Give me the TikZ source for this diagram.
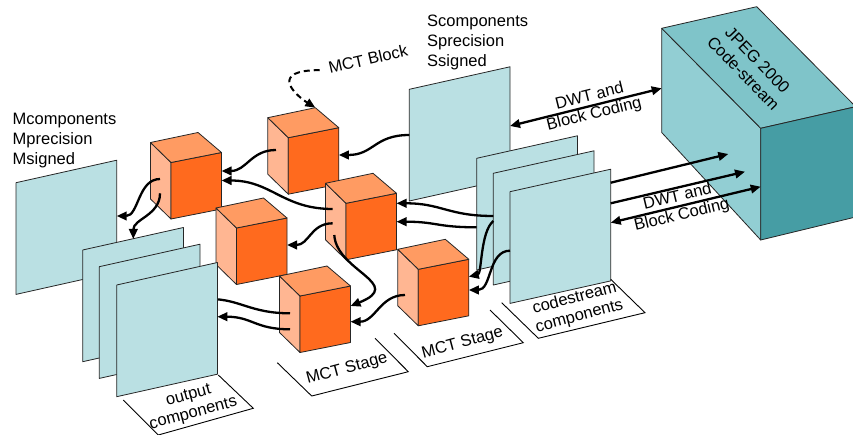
\documentclass[tikz,border=0pt]{standalone}
\usepackage{fontspec}
\setmainfont{Liberation Sans}
\usetikzlibrary{arrows.meta,calc}
\definecolor{planefill}{RGB}{186,224,227}
\definecolor{cubefront}{RGB}{255,106,30}
\definecolor{cubetop}{RGB}{255,155,98}
\definecolor{cubeleft}{RGB}{255,182,146}
\definecolor{boxtop}{RGB}{127,196,201}
\definecolor{boxside}{RGB}{146,206,211}
\definecolor{boxfront}{RGB}{70,157,164}
\tikzset{
  edge/.style={draw=black!85, line width=0.8pt, line join=round},
  plane/.pic={\filldraw[edge, fill=planefill] (0,0) -- (100.7,-22.5) -- (100.7,89.2) -- (0,111.7) -- cycle;},
  cube/.pic={
    \filldraw[edge, fill=cubeleft] (0,0) -- (-20.5,-20) -- (-20.5,36.5) -- (0,56.5) -- cycle;
    \filldraw[edge, fill=cubefront] (0,0) -- (50.5,-10) -- (50.5,46.5) -- (0,56.5) -- cycle;
    \filldraw[edge, fill=cubetop] (0,0) -- (-20.5,-20) -- (27,-30) -- (50.5,-10) -- cycle;
  },
  tip/.tip={Triangle[length=10pt,width=8.5pt]},
  flow/.style={line width=2.3pt, -tip, black},
  both/.style={line width=2.3pt, tip-tip, black},
  dflow/.style={line width=2pt, -tip, black, dash pattern=on 6pt off 4pt},
  lbl/.style={font=\fontsize{16.5}{18.5}\selectfont, align=center, inner sep=1pt},
  labbox/.style={draw=black, line width=0.9pt},
}
\begin{document}
\begin{tikzpicture}[x=1pt,y=-1pt]
\useasboundingbox (0,0) rectangle (853,435);
% plane positions (top-left corners)
\coordinate (M) at (16,182.7);
\coordinate (O1) at (82.7,250);
\coordinate (O2) at (99.3,266.7);
\coordinate (O3) at (116.7,285);
\coordinate (S) at (409.3,89.3);
\coordinate (C1) at (476.7,158.3);
\coordinate (C2) at (493.3,173.3);
\coordinate (C3) at (510,191.7);
% cube positions (front-top vertex)
\coordinate (kA) at (171,162.5);
\coordinate (kB) at (236.5,228);
\coordinate (kC) at (288.3,137.7);
\coordinate (kD) at (346,203.3);
\coordinate (kE) at (300,296);
\coordinate (kF) at (418.3,269.3);
% ports
\coordinate (S-o) at (409.3,135);
\coordinate (kC-i) at (338.8,155);
\coordinate (kC-o) at (276,150);
\coordinate (kA-i1) at (221.5,171);
\coordinate (kD-o1) at (332.7,209);
\coordinate (kA-i2) at (221.5,180.5);
\coordinate (C2-o1) at (493.3,216);
\coordinate (kD-i1) at (396.5,203.3);
\coordinate (C1-o) at (476.7,227.3);
\coordinate (kD-i2) at (396.5,221.7);
\coordinate (C2-o2) at (493.3,221);
\coordinate (kF-i1) at (468.8,276.7);
\coordinate (C3-o) at (510,250.7);
\coordinate (kF-i2) at (468.8,290);
\coordinate (kD-o2) at (332.7,223.3);
\coordinate (kB-i) at (287,245);
\coordinate (kD-o3) at (334.3,235);
\coordinate (kE-i1) at (350.5,306);
\coordinate (kF-o) at (405,295);
\coordinate (kE-i2) at (350.5,321.7);
\coordinate (kE-o1) at (290,313.3);
\coordinate (O2-i) at (200,299);
\coordinate (kE-o2) at (290,329.3);
\coordinate (O3-i) at (217.3,316.7);
\coordinate (kA-o1) at (160,179);
\coordinate (M-i) at (116.7,216);
\coordinate (kA-o2) at (160,193.3);
\coordinate (O1-i) at (133.3,239);
\coordinate (kC-top) at (315.3,107.7);
\coordinate (S-r) at (510,126);
\coordinate (J-l) at (661.7,88.3);
\coordinate (C3-r1) at (610.7,182.7);
\coordinate (J-a) at (728.3,154);
\coordinate (C3-r2) at (610.7,203.3);
\coordinate (J-b) at (745,171.7);
\coordinate (C3-r3) at (610.7,222.7);
\coordinate (J-c) at (760.7,186.7);

% planes
\pic at (M) {plane};
\pic at (O1) {plane};
\pic at (O2) {plane};
\pic at (S) {plane};
\pic at (C1) {plane};
\pic at (C2) {plane};
\pic at (C3) {plane};

% JPEG 2000 box
\begin{scope}
\clip (0,0) rectangle (853,435);
\filldraw[edge, fill=boxside] (661.7,28.3) -- (760.7,128.3) -- (760.7,240) -- (661.7,132.5) -- cycle;
\filldraw[edge, fill=boxtop] (661.7,28.3) -- (756.7,6.7) -- (855.7,106.7) -- (760.7,128.3) -- cycle;
\filldraw[edge, fill=boxfront] (760.7,128.3) -- (855.7,106.7) -- (855.7,217) -- (760.7,240) -- cycle;
\end{scope}
\node[lbl, font=\fontsize{16.5}{19.5}\selectfont, rotate=-46] (jpeg) at (750.4,66.7) {JPEG 2000\\Code-stream};

% cubes
\pic at (kA) {cube};
\pic at (kC) {cube};
\pic at (kB) {cube};
\pic at (kD) {cube};
\pic at (kE) {cube};
\pic at (kF) {cube};

% arrow hidden behind the front output plane
\draw[flow] (kE-o1) .. controls +(-40,0) and +(40,0) .. (O2-i);
\pic at (O3) {plane};

% MCT arrows
\draw[flow] (S-o) .. controls +(-35,0) and +(35,0) .. (kC-i);
\draw[flow] (kC-o) .. controls +(-25,0) and +(25,0) .. (kA-i1);
\draw[flow] (kD-o1) .. controls +(-50,0) and +(50,0) .. (kA-i2);
\draw[flow] (C2-o1) .. controls +(-45,0) and +(45,0) .. (kD-i1);
\draw[flow] (C1-o) .. controls +(-40,0) and +(40,0) .. (kD-i2);
\draw[flow] (C2-o2) .. controls +(-13,11) and +(13,-3) .. (kF-i1);
\draw[flow] (C3-o) .. controls +(-22,0) and +(23,0) .. (kF-i2);
\draw[flow] (kD-o2) .. controls +(-22,0) and +(22,0) .. (kB-i);
\draw[flow] (kD-o3) .. controls +(2,36) and +(55,-22) .. (kE-i1);
\draw[flow] (kF-o) .. controls +(-25,0) and +(25,0) .. (kE-i2);
\draw[flow] (kE-o2) .. controls +(-35,0) and +(35,0) .. (O3-i);
\draw[flow] (kA-o1) .. controls +(-22,0) and +(22,0) .. (M-i);
\draw[flow] (kA-o2) .. controls +(0,22) and +(0,-20) .. (O1-i);

% MCT Block
\node[lbl, rotate=13, inner xsep=9pt] (mctblock) at (368,59) {MCT Block};
\draw[dflow] (mctblock.west) .. controls +(-50,0) and +(-22,-14) .. (kC-top);

% DWT arrows
\draw[both] (S-r) -- node[lbl, rotate=14, pos=0.54] (dwt1) {DWT and\\Block Coding} (J-l);
\draw[flow] (C3-r1) -- (J-a);
\draw[flow] (C3-r2) -- (J-b);
\draw[both] (C3-r3) -- node[lbl, rotate=13.5, pos=0.46] (dwt2) {DWT and\\Block Coding} (J-c);

% parameter texts
\node[font=\fontsize{16.5}{20}\selectfont, anchor=base west, inner sep=0pt] (mtext) at (12.5,125)
  {\begin{tabular}[t]{@{}l@{}}Mcomponents\\Mprecision\\Msigned\end{tabular}};
\node[font=\fontsize{16.5}{20}\selectfont, anchor=base west, inner sep=0pt] (stext) at (427,26.5)
  {\begin{tabular}[t]{@{}l@{}}Scomponents\\Sprecision\\Ssigned\end{tabular}};

% label boxes
\draw[labbox] (123.3,400) -- (158.3,435) -- (253.3,408.3) -- (218.3,375);
\draw[labbox] (277.3,362.7) -- (311.7,396) -- (408.3,371.7) -- (375,338.3);
\draw[labbox] (394,333.3) -- (427.3,366.7) -- (523.3,342.7) -- (490,310);
\draw[labbox] (501.7,302.7) -- (538.3,338.3) -- (645,312.7) -- (610.7,279.3);
\node[lbl, rotate=15] (lout) at (191,405) {output\\components};
\node[lbl, rotate=15] (lst1) at (347,369) {MCT Stage};
\node[lbl, rotate=15] (lst2) at (462.5,343.3) {MCT Stage};
\node[lbl, rotate=15] (lcs) at (577,307.5) {codestream\\components};
\end{tikzpicture}
\end{document}
